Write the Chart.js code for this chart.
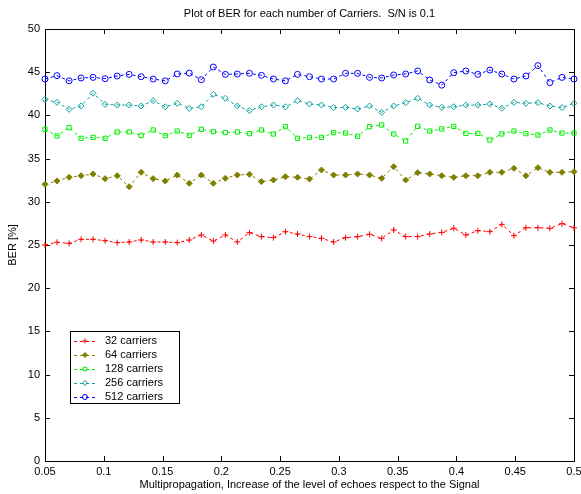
<!DOCTYPE html>
<html>
<head>
<meta charset="utf-8">
<script src="https://cdn.jsdelivr.net/npm/chart.js@4.4.1/dist/chart.umd.min.js"></script>
<style>
  html, body { margin: 0; padding: 0; background: #fff; }
  canvas { display: block; }
</style>
</head>
<body>
<canvas id="ber-chart" width="581" height="494"></canvas>
<script>
// x positions of the measurements (45 steps between 0.05 and 0.5)
const multipath = [
  0.05, 0.0602, 0.0705, 0.0807, 0.0909, 0.1011, 0.1114, 0.1216, 0.1318, 0.1420,
  0.1523, 0.1625, 0.1727, 0.1830, 0.1932, 0.2034, 0.2136, 0.2239, 0.2341, 0.2443,
  0.2545, 0.2648, 0.2750, 0.2852, 0.2955, 0.3057, 0.3159, 0.3261, 0.3364, 0.3466,
  0.3568, 0.3670, 0.3773, 0.3875, 0.3977, 0.4080, 0.4182, 0.4284, 0.4386, 0.4489,
  0.4591, 0.4693, 0.4795, 0.4898, 0.5
];

const ber32 = [
  25.0, 25.31, 25.19, 25.66, 25.66, 25.5, 25.27, 25.35, 25.58, 25.35,
  25.35, 25.27, 25.58, 26.16, 25.46, 26.16, 25.35, 26.43, 25.97, 25.85,
  26.54, 26.27, 25.97, 25.77, 25.35, 25.85, 25.97, 26.24, 25.77, 26.74,
  25.97, 25.97, 26.27, 26.46, 26.93, 26.16, 26.66, 26.54, 27.39, 26.08,
  27.0, 27.0, 26.93, 27.47, 27.0
];
const ber64 = [
  32.02, 32.41, 32.83, 33.02, 33.22, 32.68, 33.02, 31.75, 33.41, 32.68,
  32.41, 33.1, 32.14, 33.1, 32.14, 32.72, 33.1, 33.18, 32.33, 32.52,
  32.91, 32.83, 32.64, 33.68, 33.1, 33.1, 33.22, 33.1, 32.72, 34.07,
  32.52, 33.37, 33.22, 33.02, 32.83, 33.02, 33.02, 33.41, 33.41, 33.87,
  33.02, 33.95, 33.41, 33.41, 33.49
];
const ber128 = [
  38.39, 37.62, 38.58, 37.35, 37.46, 37.35, 38.08, 38.08, 37.69, 38.31,
  37.65, 38.19, 37.69, 38.39, 38.12, 38.0, 38.08, 37.89, 38.31, 37.85,
  38.7, 37.35, 37.46, 37.46, 38.0, 37.96, 37.58, 38.7, 38.89, 37.85,
  37.04, 38.73, 38.19, 38.43, 38.73, 37.92, 37.92, 37.15, 37.85, 38.19,
  37.89, 37.73, 38.31, 37.96, 37.96
];
const ber256 = [
  41.86, 41.51, 40.7, 41.09, 42.56, 41.28, 41.2, 41.2, 41.09, 41.7,
  41.0, 41.4, 40.82, 41.0, 42.44, 41.98, 41.09, 40.55, 41.0, 41.2,
  41.0, 41.7, 41.32, 41.2, 40.9, 40.93, 40.74, 41.09, 40.35, 41.09,
  41.47, 41.98, 41.2, 40.93, 41.0, 41.2, 41.2, 41.32, 40.82, 41.51,
  41.4, 41.47, 41.09, 40.9, 41.4
];
const ber512 = [
  44.21, 44.6, 44.0, 44.33, 44.4, 44.25, 44.56, 44.75, 44.48, 44.21,
  44.0, 44.79, 44.9, 44.13, 45.6, 44.75, 44.79, 44.87, 44.64, 44.21,
  44.0, 44.75, 44.48, 44.21, 44.21, 44.87, 44.87, 44.4, 44.33, 44.68,
  44.79, 45.14, 44.1, 43.5, 44.94, 45.14, 44.75, 45.25, 44.79, 44.21,
  44.56, 45.76, 43.8, 44.4, 44.21
];

const seriesLabels = ['32 carriers', '64 carriers', '128 carriers', '256 carriers', '512 carriers'];
const xTicks = [0.05, 0.1, 0.15, 0.2, 0.25, 0.3, 0.35, 0.4, 0.45, 0.5];
const yTicks = [0, 5, 10, 15, 20, 25, 30, 35, 40, 45, 50];
const titleText = 'Plot of BER for each number of Carriers.  S/N is 0.1';

Chart.defaults.font.family = "'Liberation Sans', Arial, Helvetica, sans-serif";
Chart.defaults.font.size = 11;
Chart.defaults.color = '#000';

function series(label, values, color, pointStyle, filled) {
  return {
    label: label,
    data: values.map((v, i) => ({ x: multipath[i], y: v })),
    borderColor: color,
    backgroundColor: filled ? color : 'rgba(0,0,0,0)',
    borderWidth: 1,
    borderDash: [3, 3],
    pointStyle: pointStyle,
    pointRadius: 3,
    pointBorderWidth: 1,
    pointBorderColor: color,
    pointBackgroundColor: filled ? color : 'rgba(0,0,0,0)',
    tension: 0,
    fill: false,
    clip: false,
  };
}

// frame with inward ticks on all four sides, plus title
const frame = {
  id: 'frame',
  beforeDatasetsDraw(chart) {
    const { ctx, chartArea: a, scales } = chart;
    ctx.save();
    ctx.strokeStyle = '#000';
    ctx.lineWidth = 1;
    ctx.strokeRect(a.left + 0.5, a.top + 0.5, a.right - a.left, a.bottom - a.top);
    ctx.beginPath();
    xTicks.forEach(v => {
      const px = Math.round(scales.x.getPixelForValue(v)) + 0.5;
      ctx.moveTo(px, a.bottom); ctx.lineTo(px, a.bottom - 5);
      ctx.moveTo(px, a.top); ctx.lineTo(px, a.top + 5);
    });
    yTicks.forEach(v => {
      const py = Math.round(scales.y.getPixelForValue(v)) + 0.5;
      ctx.moveTo(a.left, py); ctx.lineTo(a.left + 5, py);
      ctx.moveTo(a.right, py); ctx.lineTo(a.right - 5, py);
    });
    ctx.stroke();
    ctx.fillStyle = '#000';
    ctx.font = "11px 'Liberation Sans', Arial, sans-serif";
    ctx.textAlign = 'center';
    ctx.textBaseline = 'middle';
    ctx.fillText(titleText, (a.left + a.right) / 2, 14);
    ctx.restore();
  },
};

// legend box inside the plot, lower left
const boxLegend = {
  id: 'boxLegend',
  afterDraw(chart) {
    const { ctx } = chart;
    const bx = 70, by = 331, bw = 109, bh = 72;
    ctx.save();
    ctx.fillStyle = '#fff';
    ctx.fillRect(bx, by, bw, bh);
    ctx.strokeStyle = '#000';
    ctx.lineWidth = 1;
    ctx.strokeRect(bx + 0.5, by + 0.5, bw, bh);
    chart.data.datasets.forEach((ds, i) => {
      const yy = by + 10 + i * 14;
      ctx.strokeStyle = ds.borderColor;
      ctx.setLineDash(ds.borderDash);
      ctx.beginPath();
      ctx.moveTo(bx + 4, yy + 0.5);
      ctx.lineTo(bx + 26, yy + 0.5);
      ctx.stroke();
      ctx.setLineDash([]);
      ctx.fillStyle = ds.pointBackgroundColor;
      Chart.helpers.drawPoint(ctx, { pointStyle: ds.pointStyle, rotation: 0, radius: 2.5, borderWidth: 1 }, bx + 15, yy);
      ctx.fillStyle = '#000';
      ctx.font = "11px 'Liberation Sans', Arial, sans-serif";
      ctx.textAlign = 'left';
      ctx.textBaseline = 'middle';
      ctx.fillText(ds.label, bx + 35, yy);
    });
    ctx.restore();
  },
};

new Chart(document.getElementById('ber-chart').getContext('2d'), {
  type: 'line',
  data: {
    datasets: [
      series(seriesLabels[0], ber32, '#ff0000', 'cross', false),
      series(seriesLabels[1], ber64, '#808000', 'rectRot', true),
      series(seriesLabels[2], ber128, '#00f000', 'rect', false),
      series(seriesLabels[3], ber256, '#10a0a0', 'rectRot', false),
      series(seriesLabels[4], ber512, '#0000ff', 'circle', false),
    ],
  },
  options: {
    responsive: false,
    animation: false,
    layout: { padding: { left: 0, top: 29, right: 7, bottom: 0 } },
    plugins: {
      legend: { display: false },
      title: { display: false },
      tooltip: { enabled: false },
    },
    scales: {
      x: {
        type: 'linear',
        min: 0.05,
        max: 0.5,
        afterFit: s => { s.height = 33; s.paddingLeft = 0; s.paddingRight = 0; },
        afterBuildTicks: s => { s.ticks = xTicks.map(v => ({ value: v })); },
        grid: { display: false, drawTicks: false },
        border: { display: false },
        ticks: { padding: 4, maxRotation: 0, autoSkip: false, callback: v => String(v) },
        title: {
          display: true,
          text: 'Multipropagation, Increase of the level of echoes respect to the Signal',
          padding: { top: 2, bottom: 2 },
        },
      },
      y: {
        min: 0,
        max: 50,
        afterFit: s => { s.width = 45; },
        afterBuildTicks: s => { s.ticks = yTicks.map(v => ({ value: v })); },
        grid: { display: false, drawTicks: false },
        border: { display: false },
        ticks: { padding: 5, autoSkip: false },
        title: {
          display: true,
          text: 'BER [%]',
          padding: { top: 6, bottom: 2 },
        },
      },
    },
  },
  plugins: [frame, boxLegend],
});
</script>
</body>
</html>
